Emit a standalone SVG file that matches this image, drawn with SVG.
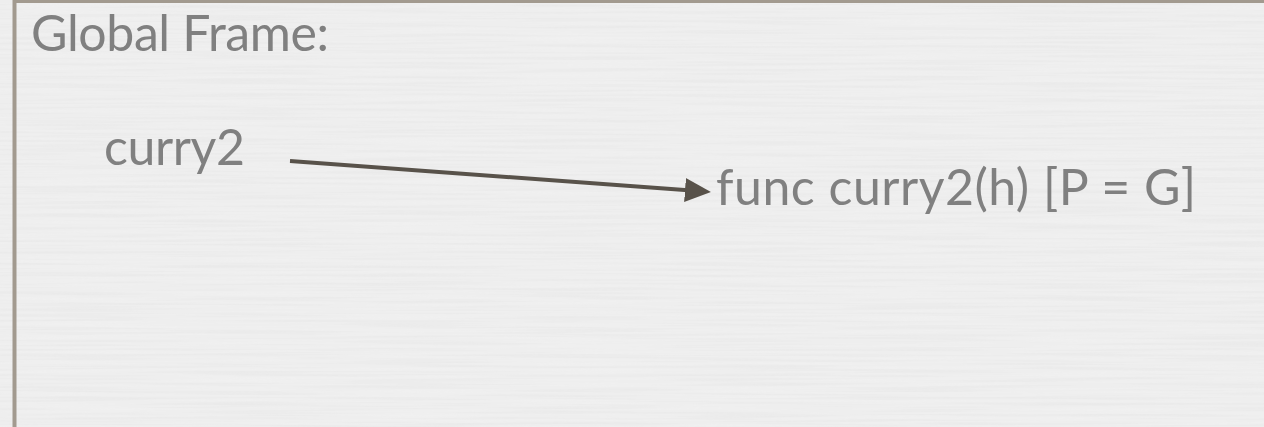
<svg xmlns="http://www.w3.org/2000/svg" width="1264" height="427" viewBox="0 0 1264 427">
  <defs>
    <!-- linen-like paper streaks -->
    <filter id="paper" x="0" y="0" width="100%" height="100%">
      <feTurbulence type="fractalNoise" baseFrequency="0.006 0.35" numOctaves="2" seed="7" result="n"/>
      <feColorMatrix in="n" type="matrix" values="0 0 0 0 1  0 0 0 0 1  0 0 0 0 1  0.9 0 0 0 -0.35" result="light"/>
      <feColorMatrix in="n" type="matrix" values="0 0 0 0 0.6  0 0 0 0 0.6  0 0 0 0 0.6  -0.9 0 0 0 0.55" result="dark"/>
      <feMerge>
        <feMergeNode in="dark"/>
        <feMergeNode in="light"/>
      </feMerge>
    </filter>
    <marker id="head" markerUnits="userSpaceOnUse" markerWidth="26" markerHeight="24" refX="3" refY="12" orient="auto">
      <path d="M0,0 L26,12 L0,24 z" fill="#58524a"/>
    </marker>
  </defs>
  <style>
    .label { font-family: "Lato", "Liberation Sans", sans-serif; font-size: 50px; fill: #808080; }
    .frame { fill: none; stroke: #a29a8f; stroke-width: 4; }
    .edge { stroke: #58524a; stroke-width: 4; fill: none; }
  </style>

  <rect width="1264" height="427" fill="#eeeeee"/>
  <rect width="1264" height="427" fill="#eeeeee" filter="url(#paper)" opacity="0.28"/>

  <!-- global frame box -->
  <g id="global-frame">
    <rect class="frame" x="14.5" y="1" width="1270" height="440"/>
    <text class="label" x="31" y="51" textLength="298" lengthAdjust="spacing">Global Frame:</text>
  </g>

  <g id="var-curry2">
    <text class="label" x="104" y="165" textLength="141" lengthAdjust="spacing">curry2</text>
  </g>

  <g id="func-curry2">
    <text class="label" x="716" y="205" textLength="480" lengthAdjust="spacing">func curry2(h) [P = G]</text>
  </g>

  <g id="connectors">
    <line class="edge" x1="290" y1="161" x2="688" y2="190.3" marker-end="url(#head)"/>
  </g>
</svg>
